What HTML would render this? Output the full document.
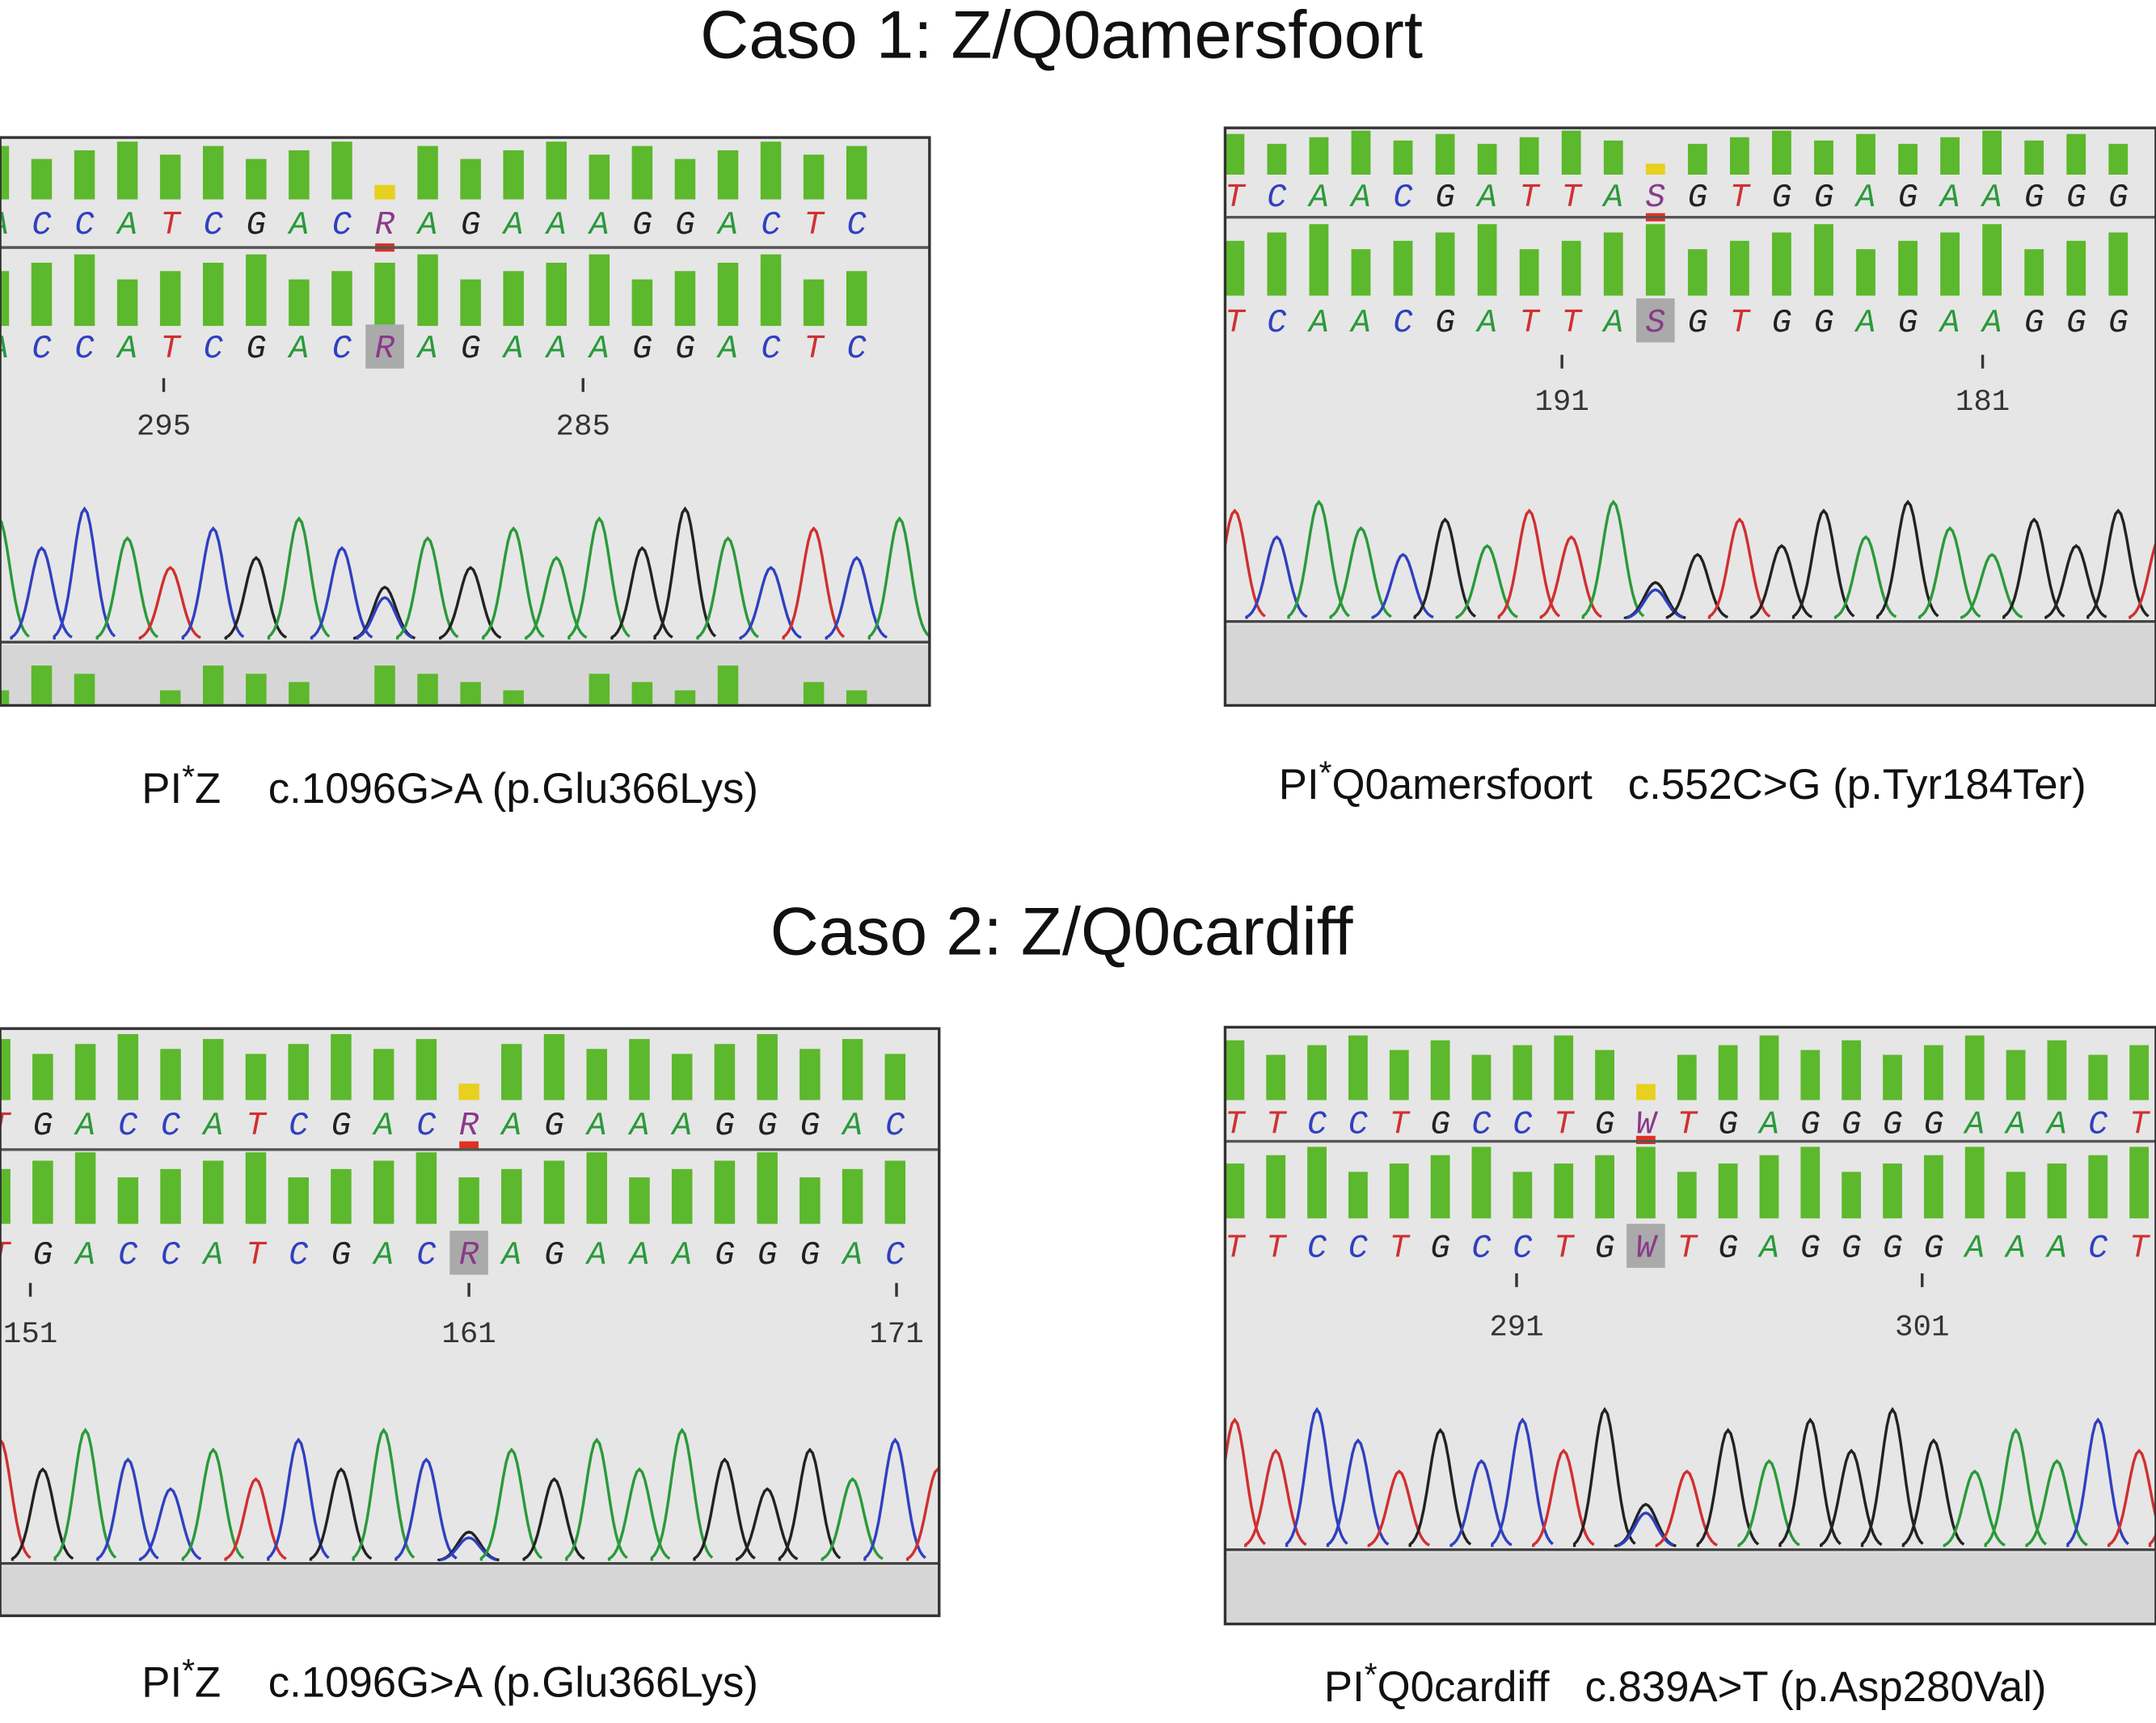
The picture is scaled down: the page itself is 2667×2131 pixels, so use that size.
<!DOCTYPE html>
<html><head><meta charset="utf-8">
<style>
html,body{margin:0;padding:0;background:#fff;}
svg{display:block;}
text{font-family:"Liberation Sans",sans-serif;}
.cap{white-space:pre;}
.seq{font-family:"Liberation Mono",monospace;font-size:24px;font-style:italic;}
.num{font-family:"Liberation Mono",monospace;font-size:22px;fill:#333;}
</style></head>
<body>
<svg id="s" width="2667" height="2131" viewBox="0 0 1568 1253" xmlns="http://www.w3.org/2000/svg">
<rect width="1568" height="1253" fill="#fff"/>
<text x="772" y="42" font-size="49" text-anchor="middle" fill="#111">Caso 1: Z/Q0amersfoort</text>
<text x="772" y="694" font-size="49" text-anchor="middle" fill="#111">Caso 2: Z/Q0cardiff</text>
<text class="cap" x="103" y="584" font-size="31" fill="#111" xml:space="preserve">PI<tspan dy="-11" font-size="24">*</tspan><tspan dy="11">Z    c.1096G&gt;A (p.Glu366Lys)</tspan></text>
<text class="cap" x="930" y="581" font-size="31" fill="#111" xml:space="preserve">PI<tspan dy="-11" font-size="24">*</tspan><tspan dy="11">Q0amersfoort   c.552C&gt;G (p.Tyr184Ter)</tspan></text>
<text class="cap" x="103" y="1234" font-size="31" fill="#111" xml:space="preserve">PI<tspan dy="-11" font-size="24">*</tspan><tspan dy="11">Z    c.1096G&gt;A (p.Glu366Lys)</tspan></text>
<text class="cap" x="963" y="1237" font-size="31" fill="#111" xml:space="preserve">PI<tspan dy="-11" font-size="24">*</tspan><tspan dy="11">Q0cardiff   c.839A&gt;T (p.Asp280Val)</tspan></text>
<defs id="d"></defs>
<g id="g"></g>
</svg>
<script>
var NS="http://www.w3.org/2000/svg",G0=document.getElementById("g"),D=document.getElementById("d"),G=G0;
function el(t,a,txt,par){var e=document.createElementNS(NS,t);for(var k in a)e.setAttribute(k,a[k]);if(txt)e.textContent=txt;(par||G).appendChild(e);return e;}
var col={A:"#2a9a3a",C:"#3040c0",G:"#222",T:"#d03030",R:"#8a3a8a",S:"#8a3a8a",W:"#8a3a8a",g:"#222"};
var pid=0;
function panel(p){
 pid++;
 var cp=el("clipPath",{id:"cp"+pid},null,D);
 el("rect",{x:p.x,y:p.y,width:p.w,height:p.h},null,cp);
 el("rect",{x:p.x,y:p.y,width:p.w,height:p.h,fill:"#e6e6e6"},null,G0);
 G=el("g",{"clip-path":"url(#cp"+pid+")"},null,G0);
 var n=p.seq.length;
 for(var i=0;i<n;i++){
  var cx=p.x0+i*p.dx,c=p.seq[i];
  var h1=p.b1h*(0.7+0.3*((i*7+3)%5)/4); if(i==p.amb)h1=p.b1h*0.25;
  el("rect",{x:cx-p.bw/2,y:p.b1y+p.b1h-h1,width:p.bw,height:h1,fill:i==p.amb?"#e8d020":"#5cb82c"});
  var h2=p.b2h*(0.65+0.35*((i*5+1)%4)/3);
  el("rect",{x:cx-p.bw/2,y:p.b2y+p.b2h-h2,width:p.bw,height:h2,fill:"#5cb82c"});
  el("text",{x:cx,y:p.l1,"text-anchor":"middle","class":"seq",fill:col[c]},c);
  if(i==p.amb){el("rect",{x:cx-14,y:p.l2-24,width:28,height:32,fill:"#aaa"});el("rect",{x:cx-7,y:p.b2y-8,width:14,height:6,fill:"#e03020"});}
  el("text",{x:cx,y:p.l2,"text-anchor":"middle","class":"seq",fill:col[c]},c);
 }
 el("line",{x1:p.x,x2:p.x+p.w,y1:p.ln,y2:p.ln,stroke:"#555","stroke-width":2});
 p.nums.forEach(function(q){el("line",{x1:q[0],x2:q[0],y1:p.tk,y2:p.tk+10,stroke:"#333","stroke-width":2});el("text",{x:q[0],y:p.nm,"text-anchor":"middle","class":"num"},q[1]);});
 var base=p.base;
 for(var i=-1;i<=n;i++){
  var c=p.seq[(i+n)%n],cx=p.x0+i*p.dx;
  var hh=(p.ph*(0.55+0.45*((i*11+5)%7)/6));
  if(i==p.amb)hh*=0.4;
  var d="M"+(cx-22)+" "+base;
  for(var t=-22;t<=22;t+=2){var y=base-hh*Math.exp(-(t*t)/(2*8*8));d+=" L"+(cx+t)+" "+y.toFixed(1);}
  var cc=col[c]; if(cc=="#8a3a8a")cc="#222";
  el("path",{d:d,fill:"none",stroke:cc,"stroke-width":2});
  if(i==p.amb){var d2="M"+(cx-20)+" "+base;for(var t=-20;t<=20;t+=2){var y=base-hh*0.8*Math.exp(-(t*t)/(2*8*8));d2+=" L"+(cx+t)+" "+y.toFixed(1);}el("path",{d:d2,fill:"none",stroke:"#3040c0","stroke-width":2});}
 }
 el("line",{x1:p.x,x2:p.x+p.w,y1:base+2,y2:base+2,stroke:"#444","stroke-width":2});
 el("rect",{x:p.x+1,y:base+4,width:p.w-2,height:p.y+p.h-base-5,fill:"#d6d6d6"});
 if(p.bot){for(var i=0;i<n;i++){var cx=p.x0+i*p.dx,h=10+((i*3)%4)*6;if(i%5==3)continue;el("rect",{x:cx-p.bw/2,y:p.y+p.h-h-1,width:p.bw,height:h,fill:"#5cb82c"});}}
 G=G0;
 el("rect",{x:p.x,y:p.y,width:p.w,height:p.h,fill:"none",stroke:"#333","stroke-width":2});
}
panel({x:0,y:100,w:676,h:413,seq:"ACCATCGACRAGAAAGGACTC",x0:-1,dx:31.2,amb:9,bw:15,b1y:103,b1h:42,b2y:185,b2h:52,l1:170,l2:260,ln:180,tk:275,nm:316,nums:[[119,"295"],[424,"285"]],base:465,ph:95,bot:true});
panel({x:891,y:93,w:677,h:420,seq:"TCAACGATTASGTGGAGAAGGG",x0:898,dx:30.6,amb:10,bw:14,b1y:95,b1h:32,b2y:163,b2h:52,l1:150,l2:241,ln:158,tk:258,nm:298,nums:[[1136,"191"],[1442,"181"]],base:450,ph:85});
panel({x:0,y:748,w:683,h:427,seq:"TGACCATCGACRAGAAAGGGAC",x0:0,dx:31,amb:11,bw:15,b1y:752,b1h:48,b2y:838,b2h:52,l1:825,l2:919,ln:836,tk:933,nm:976,nums:[[22,"151"],[341,"161"],[652,"171"]],base:1135,ph:95});
panel({x:891,y:747,w:677,h:434,seq:"TTCCTGCCTGWTGAGGGGAAACT",x0:898,dx:29.9,amb:10,bw:14,b1y:753,b1h:47,b2y:834,b2h:52,l1:824,l2:914,ln:830,tk:926,nm:971,nums:[[1103,"291"],[1398,"301"]],base:1125,ph:100});
</script>
</body></html>
